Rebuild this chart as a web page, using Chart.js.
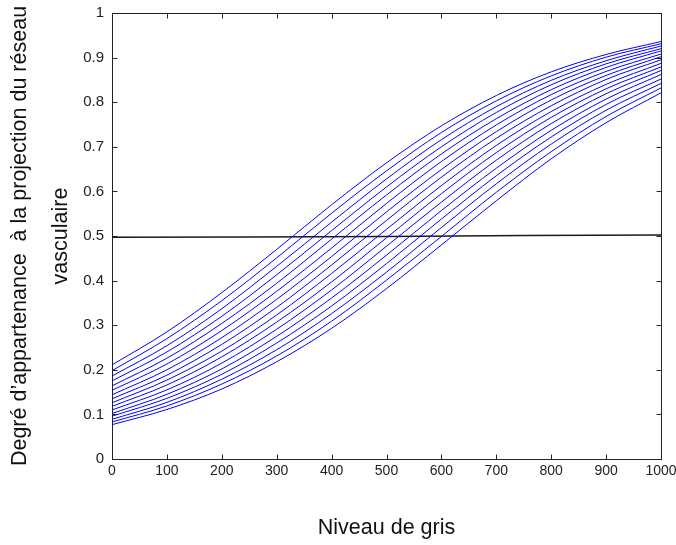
<!DOCTYPE html>
<html>
<head>
<meta charset="utf-8">
<script src="https://cdn.jsdelivr.net/npm/chart.js@4.4.1/dist/chart.umd.min.js"></script>
<style>
  html, body { margin: 0; padding: 0; background: #fff; }
  #wrap { width: 676px; height: 545px; }
</style>
</head>
<body>
<div id="wrap"><canvas id="sigmoidChart"></canvas></div>
<script>
// niveaux de gris (abscisse)
const grayLevels = [0, 100, 200, 300, 400, 500, 600, 700, 800, 900, 1000];

// courbes d'appartenance
const curve01 = [0.211, 0.285, 0.373, 0.470, 0.570, 0.664, 0.747, 0.815, 0.868, 0.907, 0.936];
const curve02 = [0.198, 0.270, 0.355, 0.451, 0.551, 0.646, 0.732, 0.803, 0.859, 0.901, 0.931];
const curve03 = [0.186, 0.254, 0.337, 0.432, 0.531, 0.628, 0.716, 0.790, 0.849, 0.893, 0.926];
const curve04 = [0.175, 0.240, 0.320, 0.413, 0.512, 0.610, 0.700, 0.777, 0.839, 0.886, 0.920];
const curve05 = [0.164, 0.226, 0.304, 0.394, 0.493, 0.592, 0.684, 0.763, 0.828, 0.878, 0.915];
const curve06 = [0.154, 0.213, 0.288, 0.376, 0.473, 0.573, 0.667, 0.749, 0.817, 0.869, 0.908];
const curve07 = [0.144, 0.200, 0.272, 0.358, 0.454, 0.554, 0.649, 0.734, 0.805, 0.860, 0.902];
const curve08 = [0.135, 0.188, 0.257, 0.340, 0.435, 0.535, 0.632, 0.719, 0.792, 0.851, 0.895];
const curve09 = [0.126, 0.177, 0.242, 0.323, 0.416, 0.515, 0.613, 0.703, 0.779, 0.840, 0.887];
const curve10 = [0.118, 0.166, 0.229, 0.307, 0.397, 0.496, 0.595, 0.687, 0.766, 0.830, 0.879];
const curve11 = [0.110, 0.155, 0.215, 0.291, 0.379, 0.477, 0.576, 0.670, 0.752, 0.819, 0.871];
const curve12 = [0.102, 0.145, 0.202, 0.275, 0.361, 0.457, 0.557, 0.652, 0.737, 0.807, 0.862];
const curve13 = [0.096, 0.136, 0.190, 0.260, 0.343, 0.438, 0.538, 0.635, 0.722, 0.795, 0.852];
const curve14 = [0.089, 0.127, 0.179, 0.245, 0.326, 0.419, 0.519, 0.617, 0.706, 0.782, 0.842];
const curve15 = [0.083, 0.119, 0.168, 0.231, 0.309, 0.401, 0.499, 0.598, 0.689, 0.768, 0.832];
const curve16 = [0.077, 0.111, 0.157, 0.218, 0.293, 0.382, 0.480, 0.579, 0.673, 0.754, 0.821];

// seuil (ligne noire)
const thresholdX = [0, 250, 500, 750, 1000];
const thresholdY = [0.497, 0.498, 0.499, 0.501, 0.502];

const xTicksFont = { family: "'Liberation Sans', Arial, sans-serif", size: 14 };
const yTicksFont = { family: "'Liberation Sans', Arial, sans-serif", size: 15 };

const allCurves = [curve01, curve02, curve03, curve04, curve05, curve06, curve07, curve08,
  curve09, curve10, curve11, curve12, curve13, curve14, curve15, curve16];

const curveDatasets = allCurves.map(function (c) {
  return {
    data: c.map(function (v, i) { return { x: grayLevels[i], y: v }; }),
    borderColor: "rgb(0, 0, 255)",
    borderWidth: 1,
    pointRadius: 0,
    fill: false,
    cubicInterpolationMode: "monotone",
  };
});

const thresholdDataset = {
  data: thresholdY.map(function (v, i) { return { x: thresholdX[i], y: v }; }),
  borderColor: "#1a1a1a",
  borderWidth: 1.5,
  pointRadius: 0,
  fill: false,
};

// cadre + graduations vers l'intérieur (style MATLAB)
const matlabBox = {
  id: "matlabBox",
  afterDatasetsDraw: function (chart) {
    const ctx = chart.ctx;
    const a = chart.chartArea;
    const xs = chart.scales.x;
    const ys = chart.scales.y;
    const L = Math.round(a.left) + 0.5, R = Math.round(a.right) + 0.5;
    const T = Math.round(a.top) + 0.5, B = Math.round(a.bottom) + 0.5;
    const len = 5;
    ctx.save();
    ctx.strokeStyle = "#222";
    ctx.lineWidth = 1;
    ctx.strokeRect(L, T, R - L, B - T);
    ctx.beginPath();
    xs.ticks.forEach(function (t) {
      const px = Math.round(xs.getPixelForValue(t.value)) + 0.5;
      ctx.moveTo(px, B); ctx.lineTo(px, B - len);
      ctx.moveTo(px, T); ctx.lineTo(px, T + len);
    });
    ys.ticks.forEach(function (t) {
      const py = Math.round(ys.getPixelForValue(t.value)) + 0.5;
      ctx.moveTo(L, py); ctx.lineTo(L + len, py);
      ctx.moveTo(R, py); ctx.lineTo(R - len, py);
    });
    ctx.stroke();
    ctx.restore();
  },
};

const sigmoidChartConfig = {
  type: "line",
  data: {
    datasets: curveDatasets.concat([thresholdDataset]),
  },
  options: {
    animation: false,
    responsive: true,
    maintainAspectRatio: false,
    layout: {
      padding: { top: 13, right: 15, left: 0, bottom: 0 },
    },
    plugins: {
      legend: { display: false },
      tooltip: { enabled: false },
    },
    scales: {
      x: {
        type: "linear",
        min: 0,
        max: 1000,
        grid: { display: false, drawTicks: false },
        border: { display: false },
        ticks: {
          stepSize: 100,
          padding: 4,
          color: "#222",
          font: xTicksFont,
          maxRotation: 0,
          callback: function (v) {
            return String(v);
          },
        },
        title: {
          display: true,
          text: "Niveau de gris",
          color: "#111",
          font: { family: "'Liberation Sans', Arial, sans-serif", size: 21.5 },
          padding: { top: 0, bottom: 4 },
        },
        afterFit: function (scale) {
          scale.height = 86;
          scale.paddingLeft = 0;
          scale.paddingRight = 15;
        },
      },
      y: {
        type: "linear",
        min: 0,
        max: 1,
        grid: { display: false, drawTicks: false },
        border: { display: false },
        ticks: {
          stepSize: 0.1,
          padding: 8,
          color: "#222",
          font: yTicksFont,
          callback: function (v) {
            return Number(v.toFixed(1)).toString();
          },
        },
        title: {
          display: true,
          text: ["Degré d\u2019appartenance  à la projection du réseau", "vasculaire"],
          color: "#111",
          font: { family: "'Liberation Sans', Arial, sans-serif", size: 21.5, lineHeight: 1.9 },
          padding: { top: 0, bottom: 0 },
        },
        afterFit: function (scale) {
          scale.width = 112;
          scale.paddingTop = 0;
          scale.paddingBottom = 0;
        },
      },
    },
  },
  plugins: [matlabBox],
};

document.addEventListener("DOMContentLoaded", () => {
  const sigmoidChart = new Chart("sigmoidChart", sigmoidChartConfig);
});
</script>
</body>
</html>
